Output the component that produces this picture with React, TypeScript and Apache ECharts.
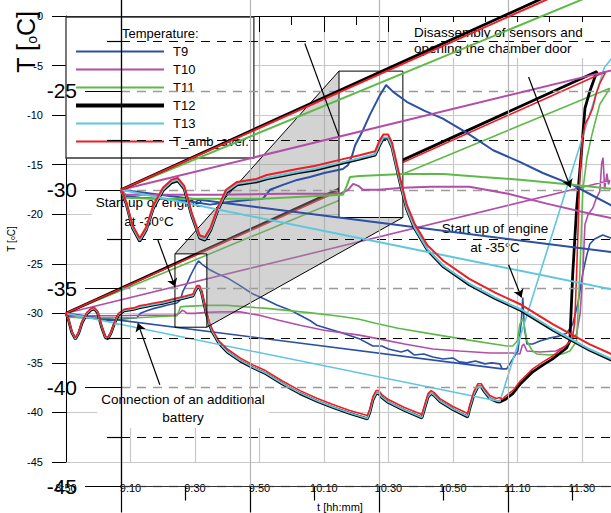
import React, { useEffect, useRef } from 'react';
import * as echarts from 'echarts';

const FONT = '"Liberation Sans", Arial, Helvetica, sans-serif';

// time axis: minutes after 8:50
const TIME_LABELS = ['8:50', '9:10', '9:30', '9:50', '10:10', '10:30', '10:50', '11:10', '11:30'];
const SERIES_NAMES = ['T9', 'T10', 'T11', 'T12', 'T13', 'T_amb_aver.'];
const COLORS = ['#2a4fa3', '#b34ea8', '#5dba48', '#000000', '#5ec7de', '#ee1d24'];

// [minutes after 8:50, °C] (including the connecting segments the recorder drew)
const T9: number[][] = [
  [135.3, -35.6], [0, -30], [0.6, -30.3], [3, -30.4], [8.7, -30.5], [11, -30.6], [13.8, -30.75], [17, -30.6],
  [20, -30.5], [22, -30.45], [23.1, -30.0], [25.1, -29.75], [27.3, -29.5], [29.3, -29.35], [31.5, -29.15],
  [34.4, -28.95], [35.2, -28.75], [35.8, -28.3], [36.3, -27.75], [37.5, -27.0], [38.6, -26.2], [40, -25.3],
  [41.1, -24.7], [42.2, -25.05], [44.3, -25.55], [47, -26.0], [49.9, -26.4], [53.5, -27.1], [57.7, -28.0],
  [61.9, -28.6], [65.4, -29.15], [70, -29.75], [72.6, -30.2], [75.8, -30.75], [77.8, -31.2], [85, -31.9],
  [91.2, -32.6], [95.2, -33.3], [98, -33.3], [100, -33.6], [104, -33.9], [106, -33.7], [108, -34.2], [111, -34.1],
  [113.8, -34.4], [117, -34.6], [120, -34.5], [122, -34.9], [124.3, -35.0], [127, -34.8], [130, -35.1],
  [132, -35.0], [134.6, -35.1], [135.3, -35.6], [136.7, -35.6], [138.6, -34.6], [140.2, -33.8], [141.2, -31.0],
  [141.7, -28.4], [142.2, -31.5], [143, -33.1], [144.8, -33.1], [147, -32.8], [150, -32.5], [153, -32.3],
  [155.3, -32.0], [157.2, -31.1], [158.8, -29.0], [160.3, -26.0], [161.5, -24.2], [162.5, -23.0], [164, -22.5],
  [166.5, -22.1], [169, -22.4], [171, -22.3]
];
const T10: number[][] = [
  [0, -30], [0.7, -30.25], [5, -30.25], [15, -30.25], [25, -30.2], [34, -30.2], [35.2, -30.0], [36, -29.7],
  [36.8, -29.8], [37.5, -30.0], [40, -30.0], [43.7, -29.9], [48, -29.85], [54, -29.85], [60, -30.2], [66, -30.7],
  [72.6, -31.2], [80, -31.7], [91, -32.2], [97.4, -32.6], [105, -33.1], [113.8, -33.6], [122, -33.8],
  [131.5, -34.0], [138.6, -34.0], [140.8, -34.1], [141.5, -33.3], [142, -33.1], [143, -33.8], [147, -33.9],
  [152, -33.8], [155, -33.3], [156.3, -32.8], [158.4, -32.1], [159.5, -30.0], [160.3, -26.0], [161, -21.0],
  [162, -20.0], [163.4, -19.4], [164.5, -18.4], [165.6, -17.7], [166.2, -14.8], [166.6, -14.3], [167.1, -17.5],
  [167.8, -15.9], [168.3, -17.0], [168.7, -16.6], [0, -30]
];
const T11: number[][] = [
  [0, -30], [0.7, -30.4], [5, -30.45], [15, -30.45], [22, -30.45], [28, -30.35], [34.4, -30.25], [35, -29.8],
  [35.5, -29.35], [37, -29.3], [43.7, -29.2], [50, -29.2], [56, -29.35], [62.3, -29.5], [70, -29.75],
  [76, -29.95], [85, -30.3], [91, -30.6], [96, -31.0], [103, -31.5], [113.8, -32.1], [125, -32.7], [136.7, -33.3],
  [138.6, -33.3], [140, -32.8], [140.8, -31.1], [141.7, -30.5], [142.3, -31.5], [143, -32.8], [144.5, -33.7],
  [146, -34.1], [150, -34.2], [154, -34.1], [156.3, -33.8], [158.4, -32.8], [159.4, -26.0], [160.3, -17.7],
  [161.6, -14.3], [163, -12.2], [164, -10.9], [165.6, -8.9], [168.7, -7.3], [0, -30]
];
const T12: number[][] = [
  [0, -30], [0.8, -30.7], [1.8, -31.95], [2.9, -32.6], [3.9, -32.05], [5, -30.95], [6.5, -30.05], [7.8, -29.65],
  [8.8, -29.55], [9.8, -29.95], [11, -31.35], [12.2, -32.45], [13, -32.55], [13.9, -32.05], [15, -31.05],
  [16.3, -30.15], [18, -29.75], [21, -29.6], [22.6, -29.45], [25, -29.3], [27.3, -29.15], [30, -29.0],
  [34.4, -28.65], [37, -28.45], [39.4, -28.25], [40.1, -27.75], [40.7, -27.4], [41.4, -27.4], [42, -27.85],
  [42.7, -28.85], [43.3, -29.7], [44.3, -31.0], [45.5, -31.95], [47.5, -33.05], [50, -33.9], [54, -34.8],
  [58, -35.5], [62, -36.1], [67, -37.1], [72.6, -38.1], [78, -38.9], [82.8, -39.5], [88, -40.1], [93.5, -40.65],
  [94.3, -39.95], [95.2, -38.75], [96.2, -38.1], [97, -38.1], [98, -38.5], [100, -39.0], [105, -39.8],
  [110.4, -40.55], [111.3, -39.55], [112.3, -38.45], [113.3, -38.1], [114.2, -38.3], [116, -38.9], [120, -39.7],
  [124.6, -40.45], [125.3, -39.55], [126.5, -38.25], [127.8, -37.4], [128.8, -37.4], [129.8, -37.9],
  [131.5, -38.6], [133.5, -38.9], [134.6, -38.95], [136.2, -38.7], [138.6, -38.1], [141, -37.1], [144.8, -35.9],
  [148, -35.2], [151, -34.6], [155.3, -33.5], [156.3, -32.8], [157.2, -26.0], [158.4, -19.4], [160, -13.3],
  [161, -9.3], [162.5, -7.6], [164.7, -5.6], [0, -30]
];
const T13: number[][] = [
  [134.6, -38.9], [0, -30], [0.8, -30.65], [1.8, -31.9], [2.9, -32.55], [3.9, -32.0], [5, -30.9], [6.5, -30.0],
  [7.8, -29.6], [8.8, -29.5], [9.8, -29.9], [11, -31.3], [12.2, -32.4], [13, -32.5], [13.9, -32.0], [15, -31.0],
  [16.3, -30.1], [18, -29.7], [21, -29.55], [22.6, -29.4], [25, -29.25], [27.3, -29.1], [30, -28.95],
  [34.4, -28.6], [37, -28.4], [39.4, -28.2], [40.1, -27.7], [40.7, -27.35], [41.4, -27.35], [42, -27.8],
  [42.7, -28.8], [43.3, -29.65], [44.3, -30.95], [45.5, -31.9], [47.5, -33.0], [50, -33.85], [54, -34.75],
  [58, -35.45], [62, -36.05], [67, -37.05], [72.6, -38.05], [78, -38.85], [82.8, -39.45], [88, -40.05],
  [93.5, -40.6], [94.3, -39.9], [95.2, -38.7], [96.2, -38.05], [97, -38.05], [98, -38.45], [100, -38.95],
  [105, -39.75], [110.4, -40.5], [111.3, -39.5], [112.3, -38.4], [113.3, -38.05], [114.2, -38.25], [116, -38.85],
  [120, -39.65], [124.6, -40.4], [125.3, -39.5], [126.5, -38.2], [127.8, -37.35], [128.8, -37.35],
  [129.8, -37.85], [131.5, -38.55], [133.5, -38.85], [134.6, -38.9], [167, -5.2], [170, -4.0]
];
const T_AMB: number[][] = [
  [0, -30], [0.8, -30.6], [1.8, -31.8], [2.9, -32.45], [3.9, -31.9], [5, -30.8], [6.5, -29.9], [7.8, -29.5],
  [8.8, -29.4], [9.8, -29.8], [11, -31.2], [12.2, -32.3], [13, -32.4], [13.9, -31.9], [15, -30.9], [16.3, -30.0],
  [18, -29.6], [21, -29.45], [22.6, -29.25], [25, -29.1], [27.3, -28.95], [30, -28.8], [34.4, -28.45],
  [37, -28.25], [39.4, -28.05], [40.1, -27.5], [40.7, -27.2], [41.4, -27.2], [42, -27.6], [42.7, -28.6],
  [43.3, -29.45], [44.3, -30.75], [45.5, -31.7], [47.5, -32.8], [50, -33.6], [54, -34.5], [58, -35.2],
  [62, -35.8], [67, -36.8], [72.6, -37.8], [78, -38.6], [82.8, -39.2], [88, -39.8], [93.5, -40.3], [94.3, -39.6],
  [95.2, -38.4], [96.2, -37.8], [97, -37.8], [98, -38.2], [100, -38.7], [105, -39.5], [110.4, -40.2],
  [111.3, -39.2], [112.3, -38.1], [113.3, -37.8], [114.2, -38.0], [116, -38.6], [120, -39.4], [124.6, -40.1],
  [125.3, -39.2], [126.5, -37.9], [127.8, -37.1], [128.8, -37.1], [129.8, -37.6], [131.5, -38.3], [133.5, -38.6],
  [134.5, -38.5], [135.3, -38.7], [136.2, -38.4], [138.6, -37.8], [141, -36.8], [144.8, -35.6], [148, -34.9],
  [151, -34.3], [155.3, -33.2], [157, -32.6], [157.8, -31.0], [158.4, -26.0], [159.4, -16.0], [160.2, -12.5],
  [161, -10.9], [162.2, -10.2], [163.4, -9.3], [164.5, -7.8], [165.6, -6.8], [167.5, -5.6], [0, -30]
];
const SERIES_DATA = [T9, T10, T11, T12, T13, T_AMB];

// zoom window shown magnified (minutes, °C)
const ZOOM_T = [33.8, 43.7];
const ZOOM_V = [-31.4, -24.0];

// annotation arrows [from, to] in (minutes, °C)
const ARROWS_MAIN: number[][][] = [
  [[28.5, -22.6], [33.8, -27.3]],
  [[29.1, -37.2], [22.3, -31.0]],
  [[137.3, -25.1], [141.3, -28.4]],
  [[143.5, -6.15], [156.5, -17.3]],
];
const ARROWS_ZOOM: number[][][] = [[[28.5, -22.6], [33.8, -27.3]]];

const timeLabel = (v: number) => (Math.abs(v % 20) < 1e-6 ? TIME_LABELS[Math.round(v / 20)] ?? '' : '');

export default function App() {
  const ref = useRef<HTMLDivElement>(null);
  useEffect(() => {
    document.body.style.margin = '0';
    const chart = echarts.init(ref.current!, undefined, { renderer: 'svg' });
    const series: any[] = [];
    SERIES_NAMES.forEach((name, i) => {
      const isBlack = name === 'T12';
      series.push({
        type: 'line', name, xAxisIndex: 0, yAxisIndex: 0, data: SERIES_DATA[i], symbol: 'none',
        showSymbol: false, z: 2, lineStyle: { color: COLORS[i], width: isBlack ? 2.8 : 1.6 },
        itemStyle: { color: COLORS[i] },
        markLine: i === 0 ? {
          silent: true, symbol: ['none', 'arrow'], symbolSize: 8, label: { show: false },
          lineStyle: { color: '#000', width: 1.2, type: 'solid' },
          data: ARROWS_MAIN.map(([a, b]) => [{ coord: a }, { coord: b }]),
        } : undefined,
      });
    });
    SERIES_NAMES.forEach((name, i) => {
      const isBlack = name === 'T12';
      series.push({
        type: 'line', name, xAxisIndex: 1, yAxisIndex: 1, data: SERIES_DATA[i], symbol: 'none',
        showSymbol: false, z: 4, lineStyle: { color: COLORS[i], width: isBlack ? 2.8 : 2 },
        itemStyle: { color: COLORS[i] },
        markLine: i === 0 ? {
          silent: true, symbol: ['none', 'none'], label: { show: false },
          lineStyle: { color: '#000', width: 1.2, type: 'solid' },
          data: ARROWS_ZOOM.map(([a, b]) => [{ coord: a }, { coord: b }]),
        } : undefined,
      });
    });

    const option: any = {
      animation: false,
      backgroundColor: '#fff',
      textStyle: { fontFamily: FONT },
      grid: [
        { left: 66, top: 16, width: 548, height: 446, outerBoundsMode: 'none', containLabel: false },
        { left: 121, top: -8, width: 516, height: 494.5, outerBoundsMode: 'none', containLabel: false },
      ],
      legend: {
        orient: 'vertical', left: 66, top: 17, padding: [28, 5, 10, 8], itemWidth: 88, itemHeight: 14,
        itemGap: 5, backgroundColor: '#fff', borderColor: '#333', borderWidth: 1.3, z: 3, selectedMode: false,
        textStyle: { fontFamily: FONT, fontSize: 13, color: '#000', padding: [0, 0, 0, 4] },
        data: SERIES_NAMES.map((n) => ({
          name: n,
          lineStyle: { width: n === 'T12' ? 4 : 2 },
          itemStyle: { color: 'rgba(0,0,0,0)', borderColor: 'rgba(0,0,0,0)', borderWidth: 0, opacity: 0 },
        })),
      },
      xAxis: [
        {
          type: 'value', gridIndex: 0, min: 0, max: 170, interval: 20,
          axisLine: { show: true, lineStyle: { color: '#000', width: 1 } },
          axisTick: { show: true, length: 16, lineStyle: { color: '#000' } },
          minorTick: { show: true, splitNumber: 2, length: 9, lineStyle: { color: '#000' } },
          splitLine: { show: true, lineStyle: { color: '#c8c8c8', width: 1.2 } },
          axisLabel: { formatter: timeLabel, fontSize: 11, margin: 20, color: '#000', fontFamily: FONT },
          name: 't [hh:mm]', nameLocation: 'middle', nameGap: 39,
          nameTextStyle: { fontSize: 11, color: '#000', fontFamily: FONT },
        },
        {
          type: 'value', gridIndex: 1, min: 0, max: 80, interval: 20, z: 3.5,
          axisLine: { show: true, lineStyle: { color: '#333', width: 1.2 } },
          axisTick: { show: true, length: 26, lineStyle: { color: '#000', width: 1.2 } },
          minorTick: { show: true, splitNumber: 2, length: 14, lineStyle: { color: '#000', width: 1.2 } },
          splitLine: { show: true, lineStyle: { color: '#b4b4b4', width: 1.2 } },
          axisLabel: { show: false },
        },
      ],
      yAxis: [
        {
          type: 'value', gridIndex: 0, min: -45, max: 0, interval: 5,
          axisLine: { show: true, lineStyle: { color: '#000', width: 1 } },
          axisTick: { show: true, length: 14, lineStyle: { color: '#000' } },
          splitLine: { show: true, lineStyle: { color: '#c8c8c8', width: 1.2 } },
          axisLabel: { fontSize: 11, margin: 23, color: '#000', fontFamily: FONT },
          name: 'T [{s|o}C]', nameLocation: 'middle', nameGap: 45, nameRotate: 90,
          nameTextStyle: { fontSize: 10, color: '#000', fontFamily: FONT, rich: { s: { fontSize: 7, color: '#000', verticalAlign: 'bottom' } } },
        },
        {
          type: 'value', gridIndex: 1, min: -45, max: -20, interval: 5, z: 3.5,
          axisLine: { show: true, lineStyle: { color: '#000', width: 1.3 } },
          axisTick: { show: true, length: 36, lineStyle: { color: '#000', width: 1.2 } },
          minorTick: { show: true, splitNumber: 2, length: 14, lineStyle: { color: '#000', width: 1.2 } },
          splitLine: { show: true, lineStyle: { color: '#9a9a9a', width: 1.3, type: [9, 7] } },
          minorSplitLine: { show: true, lineStyle: { color: '#000', width: 1.2, type: [9, 7] } },
          axisLabel: { fontSize: 21, margin: 44, color: '#000', fontFamily: FONT, showMaxLabel: false },
        },
      ],
      series,
    };
    chart.setOption(option);

    const pA = (p: number[]) => chart.convertToPixel({ gridIndex: 0 } as any, p) as number[];
    const pB = (p: number[]) => chart.convertToPixel({ gridIndex: 1 } as any, p) as number[];
    const sTL = pA([ZOOM_T[0], ZOOM_V[1]]);
    const sBR = pA([ZOOM_T[1], ZOOM_V[0]]);
    const sTR = pA([ZOOM_T[1], ZOOM_V[1]]);
    const lTL = pB([ZOOM_T[0], ZOOM_V[1]]);
    const lBR = pB([ZOOM_T[1], ZOOM_V[0]]);
    const lBL = pB([ZOOM_T[0], ZOOM_V[0]]);

    const txt = (x: number, y: number, text: string, align: string, lh: number, bg = true) => ({
      type: 'text', x, y, z: 1, silent: true,
      style: {
        text, align, verticalAlign: 'middle', fill: '#000', font: `13.5px ${FONT}`, lineHeight: lh,
        backgroundColor: bg ? '#fff' : undefined, padding: bg ? [2, 4] : 0,
      },
    });

    chart.setOption({
      graphic: [
        { type: 'polygon', z: 3, silent: true, shape: { points: [sTL, lTL, lBL, lBR, sBR, sTR] }, style: { fill: 'rgba(150,150,150,0.42)', stroke: 'none' } },
        { type: 'line', z: 3, silent: true, shape: { x1: sTL[0], y1: sTL[1], x2: lTL[0], y2: lTL[1] }, style: { stroke: '#000', lineWidth: 1 } },
        { type: 'line', z: 3, silent: true, shape: { x1: sBR[0], y1: sBR[1], x2: lBR[0], y2: lBR[1] }, style: { stroke: '#000', lineWidth: 1 } },
        { type: 'rect', z: 3, silent: true, shape: { x: lTL[0], y: lTL[1], width: lBR[0] - lTL[0], height: lBR[1] - lTL[1] }, style: { fill: '#fff', stroke: '#000', lineWidth: 1 } },
        { type: 'rect', z: 3, silent: true, shape: { x: sTL[0], y: sTL[1], width: sBR[0] - sTL[0], height: sBR[1] - sTL[1] }, style: { fill: 'none', stroke: '#000', lineWidth: 1 } },
        txt(149, 212, 'Start up of engine\nat -30°C', 'center', 19),
        txt(183, 408, 'Connection of an additional\nbattery', 'center', 18),
        txt(495, 237.5, 'Start up of engine\nat -35°C', 'center', 19),
        txt(410, 40, 'Disassembly of sensors and\nopening the chamber door', 'left', 16),
        { type: 'text', x: 122, y: 33, z: 3.6, silent: true, style: { text: 'Temperature:', align: 'left', verticalAlign: 'middle', fill: '#000', font: `13px ${FONT}` } },
        {
          type: 'text', x: 26, y: 42, z: 3.6, rotation: Math.PI / 2, silent: true,
          style: {
            text: '{b|T [}{s|o}{b|C]}', align: 'center', verticalAlign: 'middle', fill: '#000',
            rich: { b: { fontSize: 25, fontFamily: FONT, fill: '#000' }, s: { fontSize: 14, fontFamily: FONT, fill: '#000', verticalAlign: 'bottom' } },
          },
        },
      ],
    });

    return () => chart.dispose();
  }, []);
  return <div ref={ref} style={{ position: 'fixed', left: 0, top: 0, width: 611, height: 513 }} />;
}
